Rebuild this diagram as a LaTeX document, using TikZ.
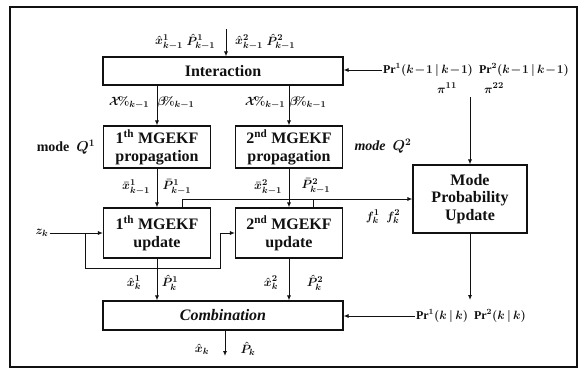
\documentclass[tikz,border=0pt]{standalone}
\usepackage{bm}
\usepackage[no-math]{fontspec}
\setmainfont{Liberation Serif}
\usetikzlibrary{arrows.meta}
\definecolor{MMInk}{HTML}{111111}
\tikzset{
  blk/.style={draw=MMInk,line width=1.1pt,inner sep=0pt,align=center,text=MMInk,
    font=\fontsize{16}{17.5}\selectfont\bfseries},
  sig/.style={draw=MMInk,line width=0.9pt,-{Latex[length=5pt,width=4pt]}},
  wire/.style={draw=MMInk,line width=0.9pt},
  lab/.style={text=MMInk,inner sep=1pt,font=\fontsize{13}{14}\selectfont\bfseries\boldmath}
}
\begin{document}
\begin{tikzpicture}[x=1pt,y=-1pt]
\path[use as bounding box] (0,0) rectangle (584,376);
\draw[MMInk,line width=1.3pt] (10,7) rectangle (577,367);
\node[blk,minimum width=240pt,minimum height=28pt] (inter) at (223,71) {Interaction};
\node[blk,minimum width=107pt,minimum height=42pt] (prop1) at (157,147) {1\textsuperscript{th} MGEKF\\propagation};
\node[blk,minimum width=107pt,minimum height=42pt] (prop2) at (289,147) {2\textsuperscript{nd} MGEKF\\propagation};
\node[blk,minimum width=107pt,minimum height=50pt] (upd1) at (157,233) {1\textsuperscript{th} MGEKF\\update};
\node[blk,minimum width=107pt,minimum height=50pt] (upd2) at (289,233) {2\textsuperscript{nd} MGEKF\\update};
\node[blk,minimum width=114pt,minimum height=68pt] (mpu) at (470,199) {Mode\\Probability\\Update};
\node[blk,minimum width=240pt,minimum height=29pt,font=\fontsize{16}{17.5}\selectfont\bfseries\itshape] (comb) at (223,315.5) {Combination};
\node[lab] (xin1) at (169,42) {$\hat{x}^{1}_{k-1}$};
\node[lab] (pin1) at (201,42) {$\hat{P}^{1}_{k-1}$};
\node[lab] (xin2) at (249,42) {$\hat{x}^{2}_{k-1}$};
\node[lab] (pin2) at (281,42) {$\hat{P}^{2}_{k-1}$};
\coordinate (xin) at (226,29);
\draw[sig] (xin) -- (xin |- inter.north);
\node[lab,font=\fontsize{12}{13}\selectfont\bfseries\boldmath] (prin) at (476,70) {Pr$^{1}(k\!-\!1\,|\,k\!-\!1)$ \ Pr$^{2}(k\!-\!1\,|\,k\!-\!1)$};
\draw[sig] (prin.west) -- (prin.west -| inter.east);
\node[lab] (pi11) at (447,88) {$\pi^{11}$};
\node[lab] (pi22) at (494,88) {$\pi^{22}$};
\coordinate (pitap) at (470,97);
\draw[sig] (pitap) -- (mpu.north);
\draw[sig] (inter.south -| prop1.north) -- (prop1.north);
\draw[sig] (inter.south -| prop2.north) -- (prop2.north);
\node[lab] (xm1) at (129,103) {$\mathcal{X}\!\%_{k-1}$};
\node[lab] (pm1) at (176,103) {$\beta\!\%_{k-1}$};
\node[lab] (xm2) at (265,103) {$\mathcal{X}\!\%_{k-1}$};
\node[lab] (pm2) at (308,103) {$\beta\!\%_{k-1}$};
\node[lab,font=\fontsize{14}{15}\selectfont\bfseries\boldmath] (mode1) at (66,147) {mode \ $Q^{1}$};
\node[lab,font=\fontsize{14}{15}\selectfont\bfseries\itshape\boldmath] (mode2) at (383,146) {mode \ $Q^{2}$};
\draw[sig] (prop1.south) -- (upd1.north);
\draw[sig] (prop2.south) -- (upd2.north);
\node[lab] (xb1) at (136,187) {$\bar{x}^{1}_{k-1}$};
\node[lab] (pb1) at (177,187) {$\bar{P}^{1}_{k-1}$};
\node[lab] (xb2) at (268,187) {$\bar{x}^{2}_{k-1}$};
\node[lab] (pb2) at (316,186) {$\bar{P}^{2}_{k-1}$};
\coordinate (f1) at (182,199);
\coordinate (f2) at (313,199);
\draw[wire] (f1 |- upd1.north) -- (f1);
\draw[wire] (f2 |- upd2.north) -- (f2);
\draw[sig] (f1) -- (mpu.west);
\node[lab] (fk) at (383,217) {$f^{1}_{k}$ \ $f^{2}_{k}$};
\node[lab] (zk) at (42,233) {$z_{k}$};
\draw[sig] (zk) -- (upd1);
\coordinate (za) at (85,233);
\coordinate (zb) at (220,268);
\draw[sig] (za) |- (zb) |- (upd2.west);
\draw[sig] (upd1.south) -- (upd1.south |- comb.north);
\draw[sig] (upd2.south) -- (upd2.south |- comb.north);
\node[lab] (xh1) at (134,283) {$\hat{x}^{1}_{k}$};
\node[lab] (ph1) at (170,283) {$\hat{P}^{1}_{k}$};
\node[lab] (xh2) at (271,283) {$\hat{x}^{2}_{k}$};
\node[lab] (ph2) at (315,283) {$\hat{P}^{2}_{k}$};
\coordinate (mout) at (470,300);
\draw[sig] (mpu.south) -- (mout);
\node[lab,font=\fontsize{12}{13}\selectfont\bfseries\boldmath] (prk) at (471,316) {Pr$^{1}(k\,|\,k)$ \ Pr$^{2}(k\,|\,k)$};
\draw[sig] (prk.west) -- (prk.west -| comb.east);
\coordinate (out) at (225,356);
\draw[sig] (comb.south -| out) -- (out);
\node[lab] (xk) at (202,349) {$\hat{x}_{k}$};
\node[lab] (pk) at (248,349) {$\hat{P}_{k}$};
\end{tikzpicture}
\end{document}
